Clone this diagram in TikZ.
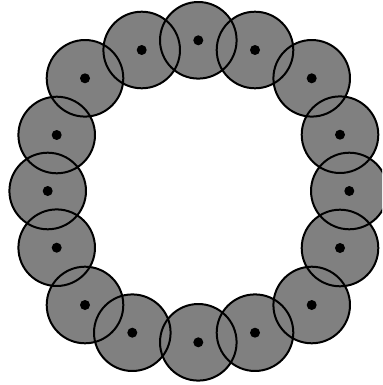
\documentclass[tikz,border=0pt]{standalone}
\usepackage{tikz}
\usetikzlibrary{positioning}

\begin{document}
\begin{tikzpicture}[
  x=0.02cm, y=-0.02cm,
  disk/.style={circle, minimum size=1.532cm, inner sep=0pt, fill=black!50},
  rim/.style={circle, minimum size=1.532cm, inner sep=0pt, draw=black, line width=0.04cm},
  pin/.style={circle, minimum size=0.2cm, inner sep=0pt, fill=black},
]
\clip (0,0) rectangle (382,385);
\useasboundingbox (0,0) rectangle (382,385);

% fills first, then outlines, then centre dots
\foreach \i/\px/\py in {1/198.3/40.3, 2/255/50, 3/311.7/78.3, 4/340/134.7,
                        5/349.3/191, 6/340/248, 7/311.7/305, 8/255/332.7,
                        9/198.3/342.3, 10/132.3/332.7, 11/85/305, 12/56.7/247.7,
                        13/47.7/191, 14/56.7/135, 15/85/78.3, 16/141.7/50}
  \node[disk] (c\i) at (\px,\py) {};

\foreach \i in {1,...,16}
  \node[rim] (r\i) at (c\i) {};

\foreach \i in {1,...,16}
  \node[pin] (p\i) at (c\i) {};
\end{tikzpicture}
\end{document}
